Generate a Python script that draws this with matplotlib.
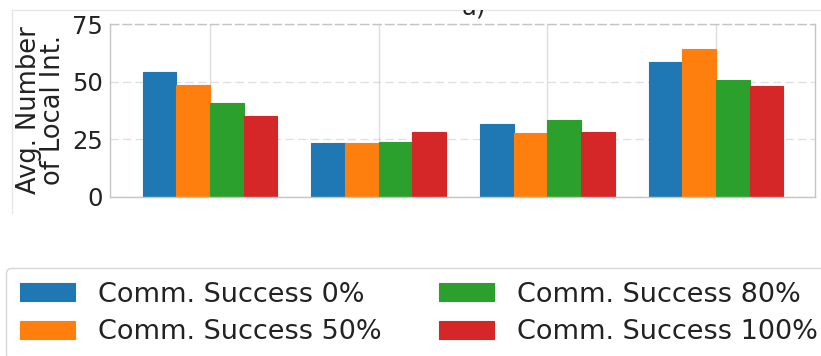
import numpy as np
import matplotlib.pyplot as plt
from matplotlib.lines import Line2D
from matplotlib.patches import Rectangle

# average number of local interactions per scenario, one list per comm. success rate
scenarios = [0, 1, 2, 3]
success_0 = [54.0, 23.5, 31.5, 58.3]
success_50 = [48.7, 23.5, 27.7, 64.1]
success_80 = [40.9, 23.8, 33.2, 50.6]
success_100 = [35.0, 28.1, 28.1, 48.0]
series_labels = ['Comm. Success 0%', 'Comm. Success 50%',
                 'Comm. Success 80%', 'Comm. Success 100%']
colors = ['#1f77b4', '#ff7f0e', '#2ca02c', '#d62728']
yticks = [0, 25, 50, 75]

W, H = 821, 356
fig = plt.figure(figsize=(W / 100, H / 100), dpi=100)
ax = fig.add_axes([110 / W, 1 - 196.7 / H, 705 / W, 172.7 / H])

x = np.arange(len(scenarios))
width = 0.2
for i, (vals, lab, c) in enumerate(zip([success_0, success_50, success_80, success_100],
                                       series_labels, colors)):
    ax.bar(x + (i - 1.5) * width, vals, width, color=c, edgecolor=c,
           linewidth=0.8, label=lab, zorder=2)

ax.set_xlim(-0.593, 3.587)
ax.set_ylim(0, 75)
ax.set_yticks(yticks)
ax.set_xticks(x)
ax.set_xticklabels([])
ax.tick_params(length=0, labelsize=17.5, pad=5, colors='#222222')

ax.xaxis.grid(True, color='#dddddd', lw=1, zorder=3)
ax.yaxis.grid(True, color='#cccccc', lw=1, ls=(0, (6, 3)), alpha=0.6, zorder=3)
for s in ax.spines.values():
    s.set_color('#c4c4c4')
    s.set_linewidth(1)
ax.spines['top'].set_linestyle((0, (6, 3)))

ax.set_ylabel('Avg. Number\nof Local Int.', fontsize=18.5, linespacing=0.92,
              color='#222222')
ax.yaxis.set_label_coords(-0.062, 0.5)

# panel frame edges
fig.add_artist(Line2D([12 / W, 1], [1 - 10 / H] * 2, color='#e6e6e6', lw=1,
                      transform=fig.transFigure))
fig.add_artist(Line2D([12 / W] * 2, [1 - 10 / H, 1 - 213 / H], color='#e6e6e6',
                      lw=1, transform=fig.transFigure))

# panel title, cut off by the frame above
title = fig.text(474 / W, 1 - 14 / H, 'a)', ha='center', va='baseline',
                 fontsize=17.5, color='#222222')
title.set_clip_path(Rectangle((0, 0), 1, 1 - 10 / H, transform=fig.transFigure))

handles, labels = ax.get_legend_handles_labels()
leg = fig.legend(handles, labels,
                 ncol=2, loc='upper left', bbox_to_anchor=(6 / W, 1 - 268 / H),
                 borderaxespad=0, fontsize=19.5, handlelength=2.03,
                 handleheight=0.66, handletextpad=0.85, columnspacing=2.15,
                 labelspacing=0.43, borderpad=0.5, frameon=True, fancybox=True,
                 edgecolor='#cccccc')
leg.get_frame().set_linewidth(1)
for t in leg.get_texts():
    t.set_color('#222222')

fig.savefig('out.png', dpi=100)
